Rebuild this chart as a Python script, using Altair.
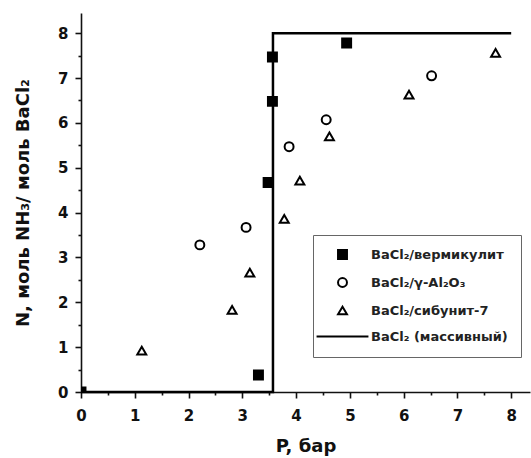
import altair as alt
import pandas as pd

series_names = ["BaCl₂/вермикулит", "BaCl₂/γ-Al₂O₃", "BaCl₂/сибунит-7", "BaCl₂ (массивный)"]

verm_p = [0.0, 3.30, 3.48, 3.56, 3.56, 4.94]
verm_n = [0.0, 0.38, 4.67, 6.48, 7.47, 7.78]
al_p = [2.21, 3.07, 3.87, 4.56, 6.52]
al_n = [3.28, 3.67, 5.47, 6.07, 7.05]
sib_p = [1.13, 2.81, 3.14, 3.78, 4.07, 4.62, 6.10, 7.71]
sib_n = [0.92, 1.83, 2.66, 3.86, 4.71, 5.70, 6.63, 7.56]
bulk_p = [0.0, 3.57, 3.57, 8.0]
bulk_n = [0.0, 0.0, 8.0, 8.0]

x_ticks = [i * 0.5 for i in range(17)]
y_ticks = [i * 0.5 for i in range(17)]

rows = []
for name, ps, ns in [(series_names[0], verm_p, verm_n),
                     (series_names[1], al_p, al_n),
                     (series_names[2], sib_p, sib_n)]:
    for p, n in zip(ps, ns):
        rows.append({"P": p, "N": n, "series": name})
pts = pd.DataFrame(rows)
line_df = pd.DataFrame({"P": bulk_p, "N": bulk_n, "order": list(range(len(bulk_p)))})

FONT = "DejaVu Sans"
minor_tick = {"condition": {"test": "datum.value % 1 !== 0", "value": 3}, "value": 6}

x_axis = alt.Axis(values=x_ticks, labelExpr="datum.value % 1 === 0 ? format(datum.value, 'd') : ''",
                  tickSize=minor_tick, title="P, бар", grid=False, labelFlush=False,
                  labelOverlap=False, labelPadding=10, titlePadding=14)
y_axis = alt.Axis(values=y_ticks, labelExpr="datum.value % 1 === 0 ? format(datum.value, 'd') : ''",
                  tickSize=minor_tick, title="N, моль NH₃/ моль BaCl₂", grid=False,
                  labelOverlap=False, labelPadding=7, titlePadding=25)

xs = alt.Scale(domain=[0, 8.35], nice=False)
ys = alt.Scale(domain=[0, 8.45], nice=False)

line = alt.Chart(line_df).mark_line(color="black", strokeWidth=2.5).encode(
    x=alt.X("P:Q", scale=xs, axis=x_axis),
    y=alt.Y("N:Q", scale=ys, axis=y_axis),
    order="order:Q",
)

leg = alt.Legend(title=None, orient="none", legendX=232, legendY=222,
                 labelFont=FONT, labelFontSize=13, labelFontWeight="bold", labelColor="#222",
                 strokeColor="#666", padding=13, symbolOffset=10, labelOffset=22, rowPadding=11,
                 symbolStrokeWidth=2, symbolSize=80)

points = alt.Chart(pts).mark_point(strokeWidth=2, size=80, opacity=1, fillOpacity=1, clip=True).encode(
    x=alt.X("P:Q", scale=xs, axis=x_axis),
    y=alt.Y("N:Q", scale=ys, axis=y_axis),
    shape=alt.Shape("series:N", scale=alt.Scale(domain=series_names,
                    range=["square", "circle", "triangle-up", "M-5.8,0H5.8"]), legend=leg),
    fill=alt.Fill("series:N", scale=alt.Scale(domain=series_names,
                  range=["black", "white", "white", "black"]), legend=leg),
    stroke=alt.Stroke("series:N", scale=alt.Scale(domain=series_names,
                      range=["black", "black", "black", "black"]), legend=leg),
)

chart = alt.layer(line, points).properties(
    width=449, height=379,
    autosize=alt.AutoSizeParams(type="none"),
    padding={"left": 81, "top": 13, "right": 1, "bottom": 66},
).configure_view(stroke=None).configure_axis(
    domainColor="#111", domainWidth=1.6, tickColor="#111", tickWidth=1.6,
    labelFont=FONT, labelFontSize=15, labelFontWeight="bold", labelColor="#111",
    titleFont=FONT, titleFontSize=18, titleFontWeight="bold", titleColor="#111",
)

chart.save("out.html", embed_options={"renderer": "svg", "actions": False})
